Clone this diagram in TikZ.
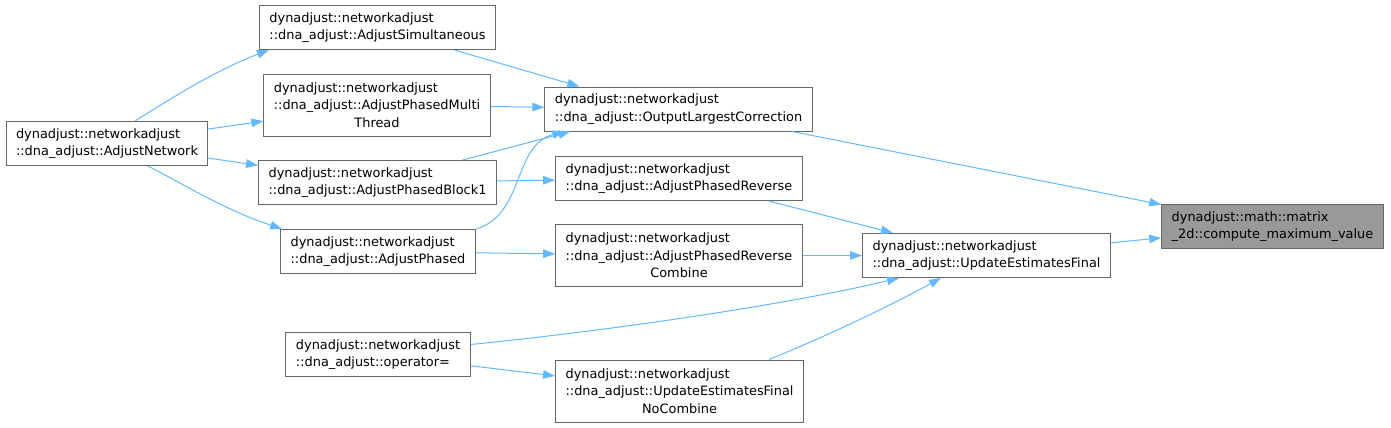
\documentclass[tikz,border=0pt]{standalone}
\usepackage{fontspec}
\setmainfont{DejaVu Sans}
\usetikzlibrary{arrows.meta}
\definecolor{edgeblue}{HTML}{63B8FF}
\definecolor{boxline}{HTML}{666666}
\definecolor{boxgray}{HTML}{999999}
\newcommand{\midline}[1]{\hfill#1\hfill\mbox{}}

\begin{document}
\begin{tikzpicture}[x=1pt,y=-1pt]
\tikzstyle{every path}=[line width=1pt]
\tikzstyle{every node}=[rectangle,draw=boxline,fill=white,align=left,inner xsep=10pt,inner ysep=3pt,minimum height=44pt,font=\fontsize{12.9}{17.5}\selectfont]
\tikzstyle{tall}=[minimum height=62pt]
\tikzstyle{this}=[fill=boxgray]
\tikzstyle{call}=[-{Triangle[length=12pt,width=8.5pt]},draw=edgeblue]

\useasboundingbox (0,0) rectangle (1391,428);

\node (1) at (1272.5,226.5) [this] {dynadjust::math::matrix\\\_2d::compute\_maximum\_value};
\node (2) at (678.5,109) {dynadjust::networkadjust\\::dna\_adjust::OutputLargestCorrection};
\node (3) at (377.5,27.5) {dynadjust::networkadjust\\::dna\_adjust::AdjustSimultaneous};
\node (4) at (107,143.5) {dynadjust::networkadjust\\::dna\_adjust::AdjustNetwork};
\node (5) at (377,105) [tall] {dynadjust::networkadjust\\::dna\_adjust::AdjustPhasedMulti\\\midline{Thread}};
\node (6) at (377.5,182.5) {dynadjust::networkadjust\\::dna\_adjust::AdjustPhasedBlock1};
\node (7) at (378,251.5) {dynadjust::networkadjust\\::dna\_adjust::AdjustPhased};
\node (8) at (986.5,255.5) {dynadjust::networkadjust\\::dna\_adjust::UpdateEstimatesFinal};
\node (9) at (679,178.5) {dynadjust::networkadjust\\::dna\_adjust::AdjustPhasedReverse};
\node (10) at (679,255.5) [tall] {dynadjust::networkadjust\\::dna\_adjust::AdjustPhasedReverse\\\midline{Combine}};
\node (11) at (378,354.5) {dynadjust::networkadjust\\::dna\_adjust::operator=};
\node (12) at (679.5,391) [tall] {dynadjust::networkadjust\\::dna\_adjust::UpdateEstimatesFinal\\\midline{NoCombine}};

\draw[call] ([xshift=28pt]4.north) .. controls +(35,-22) and +(-53,20) .. ([xshift=10pt]3.south west);
\draw[call] (4)--(5);
\draw[call] (4)--(6);
\draw[call] ([xshift=41pt]4.south) .. controls +(37,19) and +(-57,-19) .. ([xshift=2pt]7.north west);
\draw[call] (3)--([xshift=35pt]2.north west);
\draw[call] (5)--(2);
\draw[call] (6)--([xshift=26pt]2.south west);
\draw[call] (7.north east) .. controls +(49,-14) and +(-52,14) .. ([xshift=20pt]2.south west);
\draw[call] (6)--(9);
\draw[call] (7)--(10);
\draw[call] (11)--(12);
\draw[call] ([xshift=-34pt]9.south east)--([xshift=31pt]8.north west);
\draw[call] (10)--(8);
\draw[call] ([yshift=10pt]11.east) .. controls +(150,-15) and +(-104,25) .. ([xshift=37pt]8.south west);
\draw[call] ([xshift=-35pt]12.north east) .. controls +(50,-20) and +(-55,30) .. ([xshift=79pt]8.south west);
\draw[call] (2)--(1);
\draw[call] (8)--(1);

\end{tikzpicture}
\end{document}
